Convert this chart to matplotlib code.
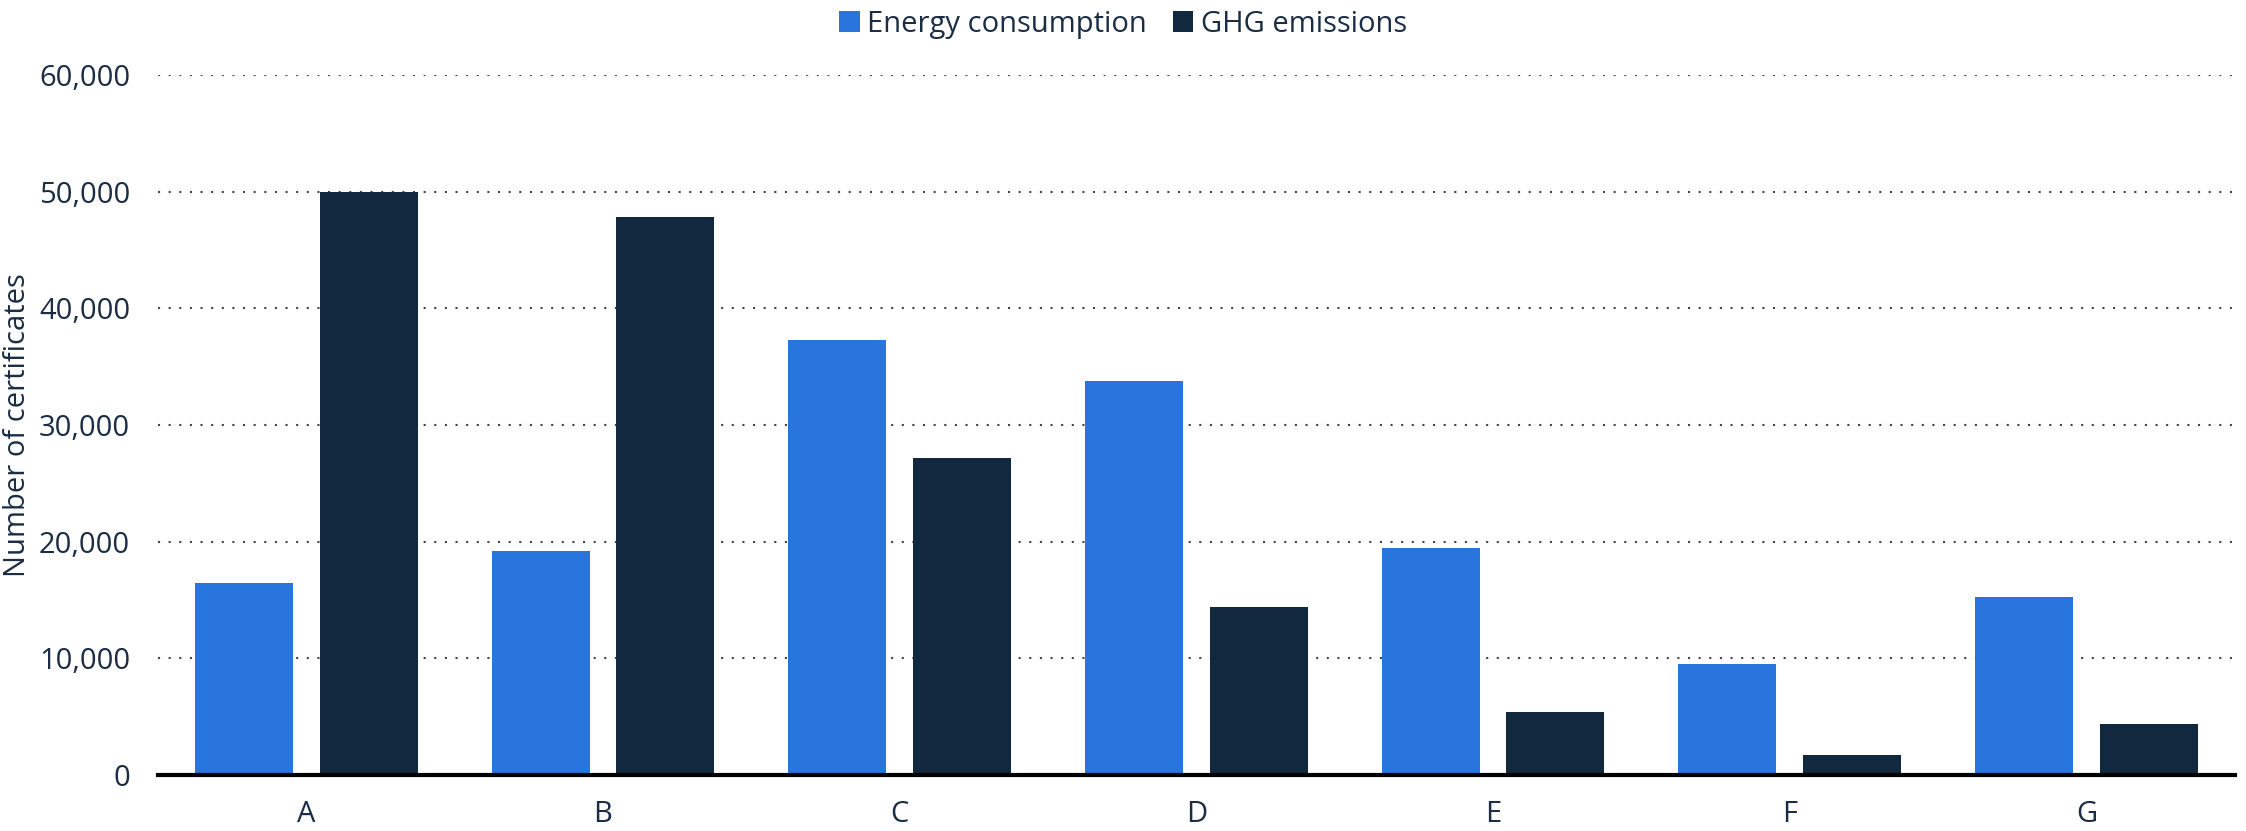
import numpy as np
import matplotlib.pyplot as plt

# data
categories = ['A', 'B', 'C', 'D', 'E', 'F', 'G']
energy = [16500, 19200, 37300, 33800, 19500, 9500, 15300]
ghg = [50000, 47800, 27200, 14400, 5400, 1750, 4400]

blue = '#2876dd'
navy = '#12283f'
text_col = '#1b2d44'

plt.rcParams['font.family'] = ['Open Sans', 'DejaVu Sans']

fig = plt.figure(figsize=(22.46, 8.31), dpi=100)
ax = fig.add_axes([0.0703, 0.0674, 0.9247, 0.8423])

x = np.arange(len(categories))
w = 0.33
ax.bar(x - 0.21, energy, w, color=blue, label='Energy consumption', zorder=3)
ax.bar(x + 0.21, ghg, w, color=navy, label='GHG emissions', zorder=3)

ax.set_xlim(-0.5, 6.5)
ax.set_ylim(0, 60000)
ax.set_yticks(np.arange(0, 60001, 10000))
ax.yaxis.set_major_formatter(plt.FuncFormatter(lambda v, p: f'{int(v):,}'))
ax.set_xticks(x)
ax.set_xticklabels(categories)

ax.grid(axis='y', color='#444444', linestyle=(0, (1, 4.1)), linewidth=1.5, zorder=0)
ax.axhline(0, color='#000000', linewidth=3, zorder=4, clip_on=False)

for s in ['top', 'right', 'left', 'bottom']:
    ax.spines[s].set_visible(False)
ax.tick_params(axis='both', length=0, labelsize=21, colors=text_col)
ax.tick_params(axis='y', pad=20)
ax.tick_params(axis='x', pad=18)

ax.set_ylabel('Number of certificates', fontsize=21, color=text_col)
ax.yaxis.set_label_coords(-0.0605, 0.5)

leg = fig.legend(loc='upper center', bbox_to_anchor=(0.5, 1.02), ncol=2, frameon=False,
                 fontsize=21, handlelength=0.7, handleheight=0.7, handletextpad=0.25,
                 columnspacing=0.9)
for t in leg.get_texts():
    t.set_color(text_col)

fig.savefig('out.png', dpi=100)
